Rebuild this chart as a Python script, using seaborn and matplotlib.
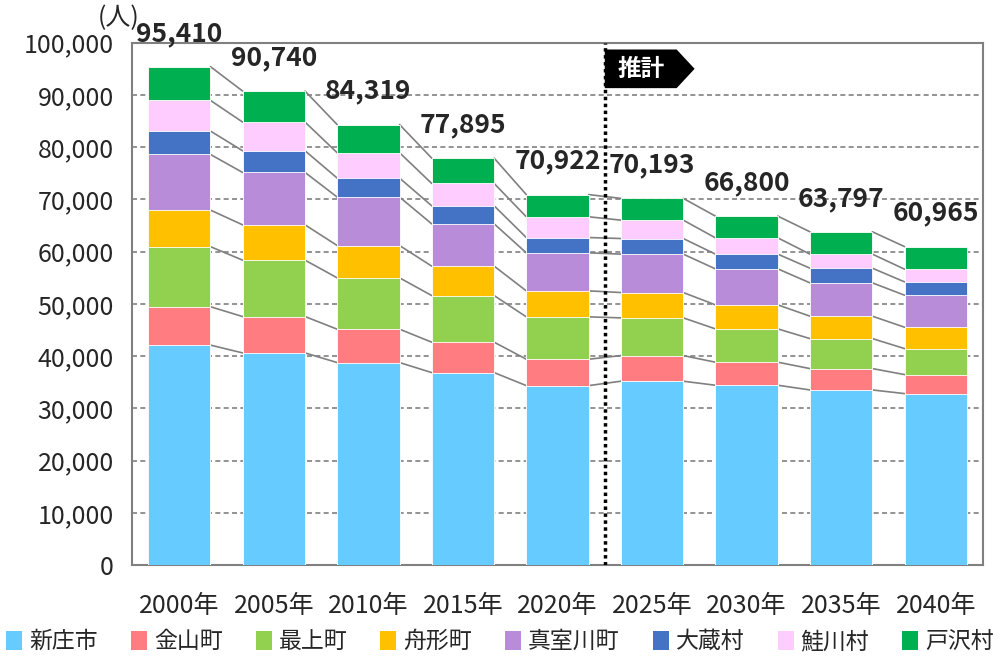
import numpy as np
import pandas as pd
import seaborn as sns
from matplotlib import pyplot as plt
from matplotlib.patches import Polygon, Patch

# data (people)
years = ["2000年", "2005年", "2010年", "2015年", "2020年", "2025年", "2030年", "2035年", "2040年"]
towns = ["新庄市", "金山町", "最上町", "舟形町", "真室川町", "大蔵村", "鮭川村", "戸沢村"]
colors = ["#66CCFF", "#FF7C80", "#92D050", "#FFC000", "#B98CD9", "#4472C4", "#FFCCFF", "#00B050"]

shinjo = [42100, 40610, 38760, 36840, 34350, 35190, 34420, 33520, 32820]
kaneyama = [7350, 6960, 6390, 5820, 5050, 4910, 4410, 4090, 3640]
mogami = [11500, 10800, 9830, 8930, 8110, 7220, 6380, 5740, 4980]
funagata = [7000, 6760, 6190, 5630, 4980, 4850, 4600, 4290, 4090]
mamurogawa = [10650, 10030, 9270, 8100, 7280, 7350, 6890, 6380, 6130]
okura = [4480, 4150, 3640, 3450, 2930, 2990, 2820, 2810, 2550]
sakegawa = [5870, 5490, 4850, 4280, 3970, 3520, 3120, 2690, 2430]
tozawa = [6460, 5940, 5389, 4845, 4252, 4163, 4160, 4277, 4325]
totals = [95410, 90740, 84319, 77895, 70922, 70193, 66800, 63797, 60965]

df = pd.DataFrame({"year": years, "新庄市": shinjo, "金山町": kaneyama, "最上町": mogami,
                   "舟形町": funagata, "真室川町": mamurogawa, "大蔵村": okura,
                   "鮭川村": sakegawa, "戸沢村": tozawa})
cum = df[towns].cumsum(axis=1)

sns.set_style("white")
plt.rcParams['font.family'] = ['Noto Sans CJK JP', 'DejaVu Sans']

fig = plt.figure(figsize=(10, 6.57), dpi=100)
ax = fig.add_axes([0.132, 0.140, 0.851, 0.795])

bar_w = 0.66
gray = "#808080"

# stacked bars: draw cumulative sums from the top series down
for k in reversed(range(len(towns))):
    sns.barplot(x=df["year"], y=cum[towns[k]], color=colors[k], width=bar_w,
                saturation=1, edgecolor="white", linewidth=0.6, ax=ax, zorder=3)

# connector lines between segment tops
for i in range(len(years) - 1):
    for k in range(len(towns)):
        ax.plot([i + bar_w / 2, i + 1 - bar_w / 2],
                [cum[towns[k]][i], cum[towns[k]][i + 1]],
                color=gray, lw=1.2, zorder=2)

# total labels
for i, v in enumerate(totals):
    ax.annotate(f"{v:,}", (i, v), xytext=(0, 24), textcoords="offset points",
                ha="center", va="center", fontsize=19, fontweight="bold", zorder=5)

ax.set_ylim(0, 100000)
ax.set_xlim(-0.5, 8.5)
ax.set_yticks(range(0, 100001, 10000))
ax.set_yticklabels([f"{v:,}" for v in range(0, 100001, 10000)], fontsize=18)
ax.set_xticks(range(len(years)))
ax.set_xticklabels(years, fontsize=18)
ax.set_xticks(np.arange(-0.5, 9, 1), minor=True)
ax.tick_params(axis="x", which="major", length=0, pad=20)
ax.tick_params(axis="x", which="minor", length=12, width=1.5, color=gray, direction="inout")
ax.tick_params(axis="y", length=6, width=1.5, color=gray, direction="out", pad=7)
ax.set_xlabel("")
ax.set_ylabel("")

for y in range(10000, 100000, 10000):
    ax.axhline(y, color=gray, lw=1.2, ls=(0, (3, 2)), zorder=1)

for s in ax.spines.values():
    s.set_color(gray)
    s.set_linewidth(1.5)

# forecast marker
ax.axvline(4.5, color="black", lw=2.5, ls=(0, (1, 1)), zorder=6)
arrow = Polygon([[4.5, 98700], [5.26, 98700], [5.45, 95000], [5.26, 91300], [4.5, 91300]],
                closed=True, facecolor="black", edgecolor="none", zorder=6)
ax.add_patch(arrow)
ax.text(4.88, 95000, "推計", color="white", fontsize=17, fontweight="bold",
        ha="center", va="center", zorder=7)

fig.text(0.119, 0.973, "(人)", fontsize=18, ha="center", va="center")

handles = [Patch(facecolor=c, edgecolor="none", label=t) for c, t in zip(colors, towns)]
fig.legend(handles=handles, loc="lower center", bbox_to_anchor=(0.5, -0.008), ncol=8,
           frameon=False, fontsize=16.5, handlelength=0.7, handleheight=0.9,
           handletextpad=0.3, columnspacing=1.45, borderaxespad=0.0)

plt.savefig("out.png", dpi=100)
plt.close()
